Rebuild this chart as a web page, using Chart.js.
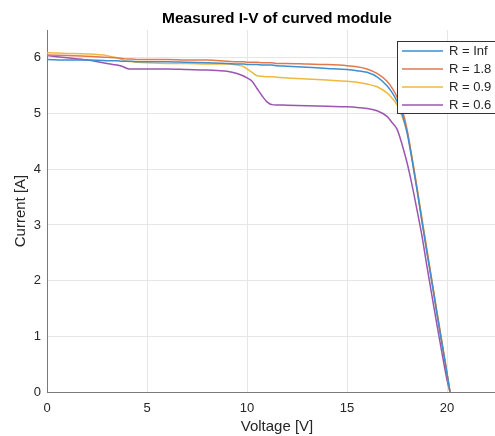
<!DOCTYPE html>
<html>
<head>
<meta charset="utf-8">
<script src="https://cdn.jsdelivr.net/npm/chart.js@4/dist/chart.umd.min.js"></script>
<style>
  html, body { margin: 0; padding: 0; background: #fff; overflow: hidden; }
  #wrap { width: 510px; height: 436px; }
</style>
</head>
<body>
<div id="wrap"><canvas id="c" width="510" height="436"></canvas></div>
<script>
// Voltage sweep points shared by all four measurements [V]
const voltage = [0, 1, 2, 3, 3.5, 3.75, 4, 4.25, 4.5, 5, 6, 7, 8, 9, 9.5, 9.85, 10, 10.25, 10.5, 10.75,
  11, 11.25, 11.5, 12, 13, 14, 15, 15.5, 16, 16.5, 17, 17.25, 17.5, 17.75, 18, 18.25, 18.5, 18.75,
  19, 19.25, 19.5, 19.75, 20, 20.15];

// Measured current [A] for each load resistance
const currentInf = [5.97, 5.96, 5.96, 5.95, 5.95, 5.94, 5.94, 5.94, 5.93, 5.93, 5.93, 5.92, 5.91, 5.90, 5.89, 5.89,
  5.88, 5.88, 5.88, 5.87, 5.87, 5.87, 5.86, 5.85, 5.83, 5.81, 5.79, 5.77, 5.74, 5.66, 5.50, 5.38, 5.22, 5.00,
  4.66, 4.17, 3.63, 3.06, 2.50, 1.96, 1.40, 0.87, 0.33, 0];
const current18 = [6.05, 6.04, 6.03, 6.01, 6.00, 5.99, 5.98, 5.98, 5.97, 5.97, 5.97, 5.96, 5.96, 5.94, 5.93, 5.93,
  5.92, 5.92, 5.92, 5.91, 5.91, 5.91, 5.90, 5.90, 5.89, 5.88, 5.86, 5.84, 5.80, 5.72, 5.58, 5.46, 5.30, 5.08,
  4.72, 4.20, 3.65, 3.07, 2.52, 1.97, 1.41, 0.87, 0.33, 0];
const current09 = [6.09, 6.08, 6.07, 6.04, 6.00, 5.97, 5.94, 5.93, 5.92, 5.91, 5.90, 5.90, 5.89, 5.89, 5.87, 5.84,
  5.80, 5.74, 5.68, 5.67, 5.66, 5.66, 5.65, 5.64, 5.62, 5.60, 5.58, 5.56, 5.53, 5.48, 5.37, 5.28, 5.16, 4.95,
  4.68, 4.22, 3.68, 3.12, 2.56, 2.00, 1.45, 0.90, 0.36, 0];
const current06 = [6.04, 6.00, 5.96, 5.90, 5.87, 5.85, 5.81, 5.80, 5.80, 5.80, 5.80, 5.79, 5.78, 5.76, 5.72, 5.67,
  5.64, 5.58, 5.45, 5.32, 5.21, 5.16, 5.155, 5.15, 5.14, 5.13, 5.12, 5.11, 5.09, 5.05, 4.95, 4.84, 4.72, 4.45,
  4.12, 3.72, 3.27, 2.80, 2.25, 1.72, 1.20, 0.70, 0.22, 0];

const seriesLabels = ['R = Inf', 'R = 1.8', 'R = 0.9', 'R = 0.6'];
const xTicks = [0, 5, 10, 15, 20];
const yTicks = [0, 1, 2, 3, 4, 5, 6];

const colors = ['#3d8fd0', '#e3784f', '#efb93e', '#9b55b0'];
const seriesCurrents = [currentInf, current18, current09, current06];

const datasets = seriesCurrents.map((cur, i) => ({
  label: seriesLabels[i],
  data: voltage.map((v, k) => ({ x: v, y: cur[k] })),
  borderColor: colors[i],
  borderWidth: 1.5,
  pointRadius: 0,
  fill: false,
  cubicInterpolationMode: 'monotone'
}));

const FONT = "'Liberation Sans', Arial, Helvetica, sans-serif";
const TEXT = '#262626';

// Boxed legend drawn in the upper-right corner of the axes
const boxLegend = {
  id: 'boxLegend',
  afterDatasetsDraw(chart) {
    const ctx = chart.ctx;
    const x0 = 397.5, y0 = 41.5, w = 106, h = 72;
    ctx.save();
    ctx.fillStyle = '#ffffff';
    ctx.fillRect(x0, y0, w, h);
    ctx.strokeStyle = '#333333';
    ctx.lineWidth = 1;
    ctx.strokeRect(x0, y0, w, h);
    ctx.font = '13px ' + FONT;
    ctx.textBaseline = 'middle';
    ctx.textAlign = 'left';
    chart.data.datasets.forEach((ds, i) => {
      const y = y0 + 9.5 + i * 18;
      ctx.strokeStyle = ds.borderColor;
      ctx.lineWidth = 1.5;
      ctx.beginPath();
      ctx.moveTo(402, y);
      ctx.lineTo(443, y);
      ctx.stroke();
      ctx.fillStyle = TEXT;
      ctx.fillText(ds.label, 449, y + 0.5);
    });
    ctx.restore();
  }
};

new Chart(document.getElementById('c'), {
  type: 'line',
  data: { datasets },
  options: {
    responsive: false,
    animation: false,
    layout: { padding: { left: 0, right: 3, top: 0, bottom: 0 } },
    plugins: {
      legend: { display: false },
      tooltip: { enabled: false },
      title: {
        display: true,
        fullSize: false,
        text: 'Measured I-V of curved module',
        color: '#000',
        font: { family: FONT, size: 15.5, weight: 'bold' },
        padding: { top: 9, bottom: 2.4 }
      }
    },
    scales: {
      x: {
        type: 'linear',
        min: 0,
        max: 23,
        afterBuildTicks: s => { s.ticks = xTicks.map(v => ({ value: v })); },
        afterFit: s => { s.height = 44; },
        ticks: { color: TEXT, font: { family: FONT, size: 13 }, padding: 9, maxRotation: 0 },
        grid: { color: '#e6e6e6', drawTicks: false },
        border: { color: '#7a7a7a', width: 1 },
        title: {
          display: true,
          text: 'Voltage [V]',
          color: TEXT,
          font: { family: FONT, size: 15 },
          padding: { top: 0, bottom: 0 }
        }
      },
      y: {
        type: 'linear',
        min: 0,
        max: 6.5,
        afterBuildTicks: s => { s.ticks = yTicks.map(v => ({ value: v })); },
        afterFit: s => { s.width = 47; },
        ticks: { color: TEXT, font: { family: FONT, size: 13 }, padding: 6 },
        grid: { color: '#e6e6e6', drawTicks: false },
        border: { color: '#7a7a7a', width: 1 },
        title: {
          display: true,
          text: 'Current [A]',
          color: TEXT,
          font: { family: FONT, size: 15 },
          padding: { top: 12, bottom: 0 }
        }
      }
    }
  },
  plugins: [boxLegend]
});
</script>
</body>
</html>
